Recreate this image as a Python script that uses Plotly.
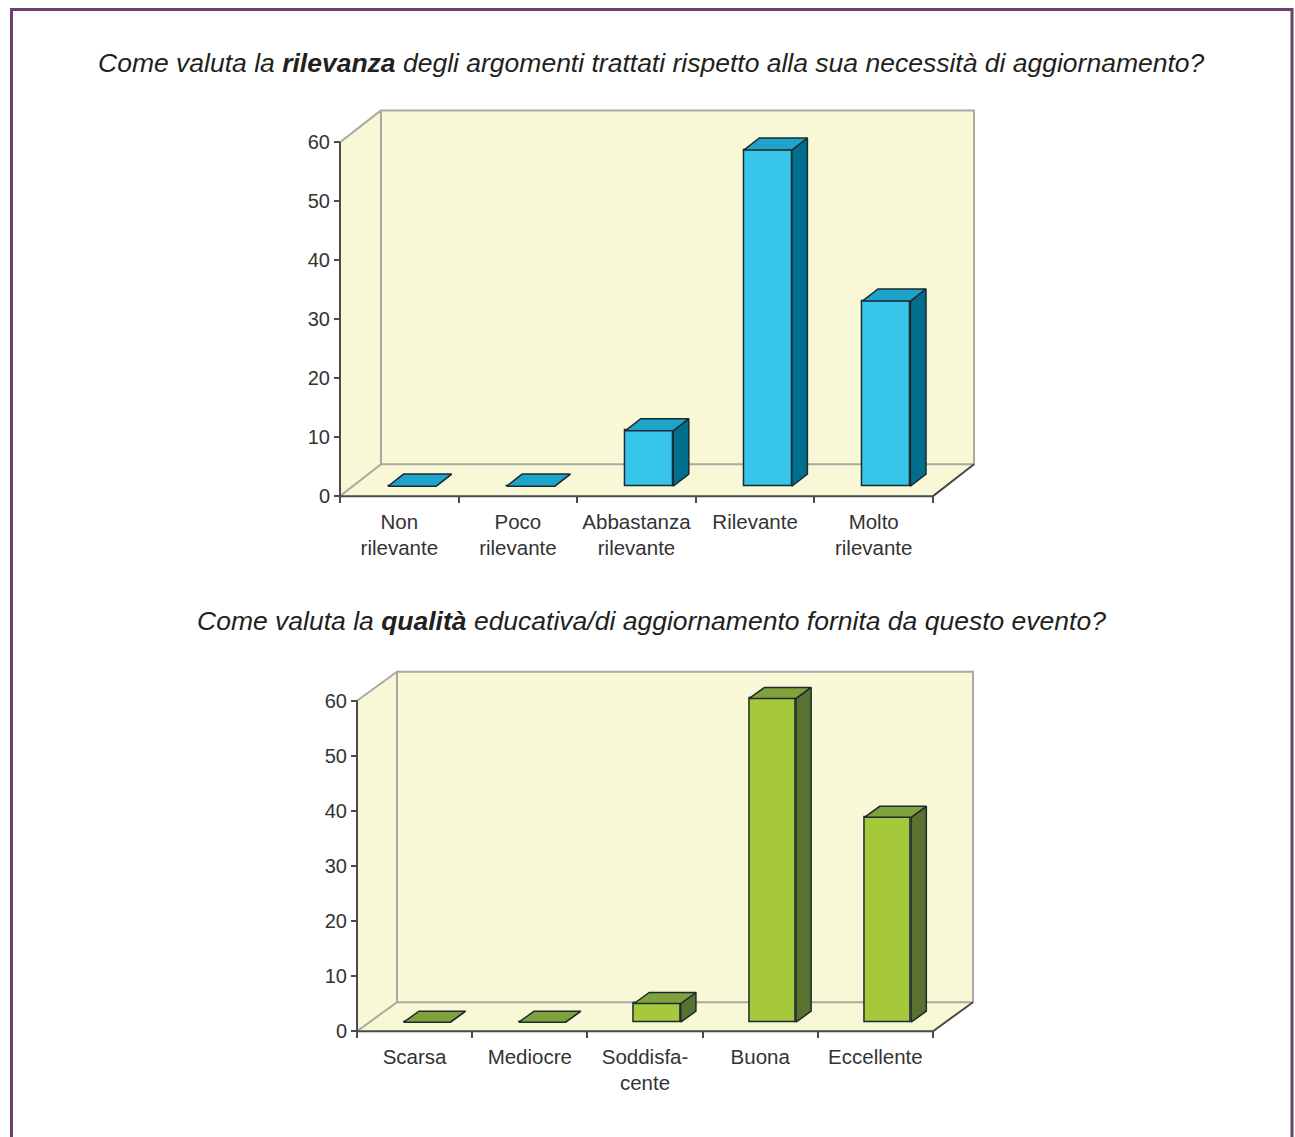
import plotly.graph_objects as go

W, H = 1295, 1137

# ---------------- data ----------------
cats_1 = ["Non<br>rilevante", "Poco<br>rilevante", "Abbastanza<br>rilevante", "Rilevante", "Molto<br>rilevante"]
vals_1 = [0, 0, 9.4, 57.0, 31.4]

cats_2 = ["Scarsa", "Mediocre", "Soddisfa-<br>cente", "Buona", "Eccellente"]
vals_2 = [0, 0, 3.4, 58.8, 37.2]

y_ticks = [0, 10, 20, 30, 40, 50, 60]
y_max = 60

title_1 = "<i>Come valuta la <b>rilevanza</b> degli argomenti trattati rispetto alla sua necessità di aggiornamento?</i>"
title_2 = "<i>Come valuta la <b>qualità</b> educativa/di aggiornamento fornita da questo evento?</i>"

# ---------------- style / layout ----------------
FONT = "Liberation Sans, Arial, Helvetica, sans-serif"
WALL = "#f9f8d6"
WALL_EDGE = "#a9a9a2"
AXIS = "#4a4a4a"
OUTLINE = "#1c2a30"

blue = dict(front="#38c5ea", top="#1ea4ca", side="#006f8d")
green = dict(front="#a5c93b", top="#7fa23c", side="#5a7131")

# pixel calibration of each panel (front-plane origin, scale, depth)
cal_1 = dict(X0=340, xs=118.6, Y0=497, ys=5.907, dx_px=41, dy_px=32, title_y=63)
cal_2 = dict(X0=357, xs=115.2, Y0=1033, ys=5.517, dx_px=40, dy_px=29, title_y=622)

fig = go.Figure()
shapes = []
annotations = []


def add_panel(k, cats, vals, col, cal, title):
    xa = "x" if k == 1 else f"x{k}"
    ya = "y" if k == 1 else f"y{k}"
    n = len(cats)
    X0, xs, Y0, ys = cal["X0"], cal["xs"], cal["Y0"], cal["ys"]
    Dx = cal["dx_px"] / xs
    Dy = cal["dy_px"] / ys
    xr = [-0.65, n - 0.5 + Dx + 0.12]
    yr = [-1.6, y_max + Dy + 1.2]
    dom_x = [(X0 + (xr[0] + 0.5) * xs) / W, (X0 + (xr[1] + 0.5) * xs) / W]
    dom_y = [1 - (Y0 - yr[0] * ys) / H, 1 - (Y0 - yr[1] * ys) / H]

    L, R = -0.5, n - 0.5

    def path(pts):
        return "M " + " L ".join(f"{px},{py}" for px, py in pts) + " Z"

    def open_path(pts):
        return "M " + " L ".join(f"{px},{py}" for px, py in pts)

    base = dict(xref=xa, yref=ya, layer="below")
    # walls (fills)
    shapes.append(dict(type="path", path=path([(L, 0), (L, y_max), (L + Dx, y_max + Dy), (L + Dx, Dy)]),
                       fillcolor=WALL, line=dict(width=0), **base))
    shapes.append(dict(type="path", path=path([(L, 0), (R, 0), (R + Dx, Dy), (L + Dx, Dy)]),
                       fillcolor=WALL, line=dict(width=0), **base))
    shapes.append(dict(type="path", path=path([(L + Dx, Dy), (R + Dx, Dy), (R + Dx, y_max + Dy), (L + Dx, y_max + Dy)]),
                       fillcolor=WALL, line=dict(color=WALL_EDGE, width=2), **base))
    # gray diagonals
    shapes.append(dict(type="path", path=open_path([(L, 0), (L + Dx, Dy)]),
                       line=dict(color=WALL_EDGE, width=2), **base))
    shapes.append(dict(type="path", path=open_path([(L, y_max), (L + Dx, y_max + Dy)]),
                       line=dict(color=WALL_EDGE, width=2), **base))
    # dark axis lines
    shapes.append(dict(type="path", path=open_path([(L, y_max), (L, 0), (R, 0), (R + Dx, Dy)]),
                       line=dict(color=AXIS, width=2), **base))

    # bars
    d1, d2 = 0.31, 0.69
    w = 0.405
    ddx, ddy = (d2 - d1) * Dx, (d2 - d1) * Dy
    b = d1 * Dy
    fig.add_trace(go.Bar(x=list(range(n)), y=vals, base=[b] * n, width=w, offset=-w / 2 + d1 * Dx,
                         marker=dict(color=col["front"], line=dict(color=OUTLINE, width=1.5)),
                         xaxis=xa, yaxis=ya, showlegend=False, hoverinfo="skip"))
    for i, v in enumerate(vals):
        xl = i - w / 2 + d1 * Dx
        xrr = xl + w
        t = b + v
        fig.add_trace(go.Scatter(x=[xrr, xrr + ddx, xrr + ddx, xrr, xrr], y=[b, b + ddy, t + ddy, t, b],
                                 mode="lines", fill="toself", fillcolor=col["side"],
                                 line=dict(color=OUTLINE, width=1.5), xaxis=xa, yaxis=ya,
                                 showlegend=False, hoverinfo="skip"))
        fig.add_trace(go.Scatter(x=[xl, xrr, xrr + ddx, xl + ddx, xl], y=[t, t, t + ddy, t + ddy, t],
                                 mode="lines", fill="toself", fillcolor=col["top"],
                                 line=dict(color=OUTLINE, width=1.5), xaxis=xa, yaxis=ya,
                                 showlegend=False, hoverinfo="skip"))

    xkey = "xaxis" if k == 1 else f"xaxis{k}"
    ykey = "yaxis" if k == 1 else f"yaxis{k}"
    fig.update_layout(**{
        xkey: dict(domain=dom_x, range=xr, anchor="free", position=1 - Y0 / H,
                   tickmode="array", tickvals=list(range(n)), ticktext=cats, ticks="",
                   ticklabelstandoff=11,
                   showline=False, showgrid=False, zeroline=False,
                   tickfont=dict(family=FONT, size=20.5, color="#333333"),
                   minor=dict(tickmode="array", tickvals=[i - 0.5 for i in range(n + 1)],
                              ticks="outside", ticklen=6, tickwidth=2, tickcolor=AXIS, showgrid=False),
                   fixedrange=True),
        ykey: dict(domain=dom_y, range=yr, anchor="free", position=X0 / W,
                   tickmode="array", tickvals=y_ticks, ticks="outside", ticklen=6, tickwidth=2,
                   tickcolor=AXIS, showline=False, showgrid=False, zeroline=False,
                   tickfont=dict(family=FONT, size=20, color="#333333"), fixedrange=True),
    })
    annotations.append(dict(text=title, x=651 / W, y=1 - cal["title_y"] / H, xref="paper", yref="paper",
                            xanchor="center", yanchor="middle", showarrow=False,
                            font=dict(family=FONT, size=26.5, color="#231f20")))


add_panel(1, cats_1, vals_1, blue, cal_1, title_1)
add_panel(2, cats_2, vals_2, green, cal_2, title_2)

# outer purple frame
shapes.append(dict(type="rect", xref="paper", yref="paper", x0=11.5 / W, x1=1292 / W,
                   y0=-0.05, y1=1 - 9.5 / H, line=dict(color="#6d3f6f", width=3), layer="above"))

fig.update_layout(width=W, height=H, margin=dict(l=0, r=0, t=0, b=0),
                  paper_bgcolor="white", plot_bgcolor="rgba(0,0,0,0)",
                  shapes=shapes, annotations=annotations, bargap=0,
                  font=dict(family=FONT), showlegend=False)

fig.write_html("out.html")
